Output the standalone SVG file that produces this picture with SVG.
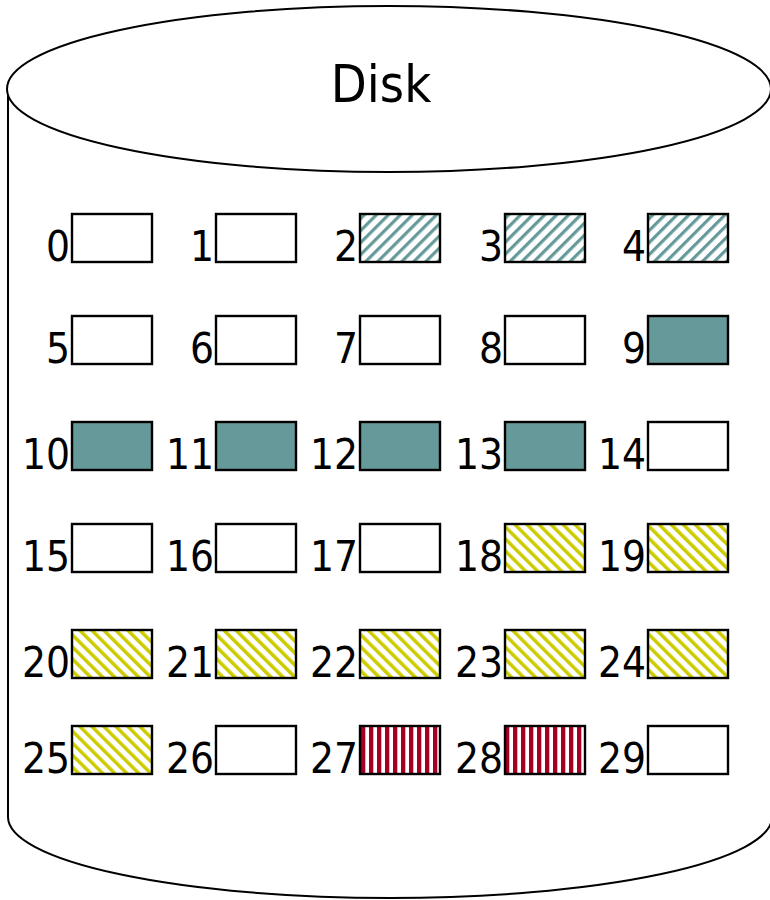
<svg xmlns="http://www.w3.org/2000/svg" width="770" height="900" viewBox="0 0 770 900">
<defs>
<pattern id="tealHatch" patternUnits="userSpaceOnUse" width="8.5" height="8.5" patternTransform="rotate(45)">
<rect x="0" y="0" width="8.5" height="8.5" fill="#fff"/>
<rect x="0" y="0" width="3.2" height="8.5" fill="#669999"/>
</pattern>
<pattern id="yellowHatch" patternUnits="userSpaceOnUse" width="8.5" height="8.5" patternTransform="rotate(-45)">
<rect x="0" y="0" width="8.5" height="8.5" fill="#fff"/>
<rect x="0" y="0" width="3.5" height="8.5" fill="#cccc00"/>
</pattern>
<pattern id="redStripe" patternUnits="userSpaceOnUse" width="8" height="10" x="1">
<rect x="0" y="0" width="8" height="10" fill="#fff"/>
<rect x="0" y="0" width="4.3" height="10" fill="#a50021"/>
</pattern>
</defs>
<style>
.cyl{fill:#fff;stroke:#000;stroke-width:2}
.blk{stroke:#000;stroke-width:2.4}
.empty{fill:#fff}
.solid{fill:#669999}
.teal{fill:url(#tealHatch)}
.yel{fill:url(#yellowHatch)}
.red{fill:url(#redStripe)}
.lbl{font-family:"DejaVu Sans Condensed","DejaVu Sans",sans-serif;font-stretch:condensed;font-size:42px;fill:#000;text-anchor:end}
.title{font-family:"DejaVu Sans Condensed","DejaVu Sans",sans-serif;font-stretch:condensed;font-size:52px;fill:#000;text-anchor:middle}
</style>
<g id="disk">
<path class="cyl" d="M 8 89 L 8 817 A 382 81 0 0 0 772 817 L 772 89 Z"/>
<ellipse class="cyl" cx="389" cy="89" rx="382" ry="83"/>
<text class="title" x="381" y="102">Disk</text>
</g>
<g id="b0"><rect class="blk empty" x="72" y="214" width="80" height="48"/><text class="lbl" x="70" y="261">0</text></g>
<g id="b1"><rect class="blk empty" x="216" y="214" width="80" height="48"/><text class="lbl" x="214" y="261">1</text></g>
<g id="b2"><rect class="blk teal" x="360" y="214" width="80" height="48"/><text class="lbl" x="358" y="261">2</text></g>
<g id="b3"><rect class="blk teal" x="505" y="214" width="80" height="48"/><text class="lbl" x="503" y="261">3</text></g>
<g id="b4"><rect class="blk teal" x="648" y="214" width="80" height="48"/><text class="lbl" x="646" y="261">4</text></g>

<g id="b5"><rect class="blk empty" x="72" y="316" width="80" height="48"/><text class="lbl" x="70" y="363">5</text></g>
<g id="b6"><rect class="blk empty" x="216" y="316" width="80" height="48"/><text class="lbl" x="214" y="363">6</text></g>
<g id="b7"><rect class="blk empty" x="360" y="316" width="80" height="48"/><text class="lbl" x="358" y="363">7</text></g>
<g id="b8"><rect class="blk empty" x="505" y="316" width="80" height="48"/><text class="lbl" x="503" y="363">8</text></g>
<g id="b9"><rect class="blk solid" x="648" y="316" width="80" height="48"/><text class="lbl" x="646" y="363">9</text></g>

<g id="b10"><rect class="blk solid" x="72" y="422" width="80" height="48"/><text class="lbl" x="70" y="469">10</text></g>
<g id="b11"><rect class="blk solid" x="216" y="422" width="80" height="48"/><text class="lbl" x="214" y="469">11</text></g>
<g id="b12"><rect class="blk solid" x="360" y="422" width="80" height="48"/><text class="lbl" x="358" y="469">12</text></g>
<g id="b13"><rect class="blk solid" x="505" y="422" width="80" height="48"/><text class="lbl" x="503" y="469">13</text></g>
<g id="b14"><rect class="blk empty" x="648" y="422" width="80" height="48"/><text class="lbl" x="646" y="469">14</text></g>

<g id="b15"><rect class="blk empty" x="72" y="524" width="80" height="48"/><text class="lbl" x="70" y="571">15</text></g>
<g id="b16"><rect class="blk empty" x="216" y="524" width="80" height="48"/><text class="lbl" x="214" y="571">16</text></g>
<g id="b17"><rect class="blk empty" x="360" y="524" width="80" height="48"/><text class="lbl" x="358" y="571">17</text></g>
<g id="b18"><rect class="blk yel" x="505" y="524" width="80" height="48"/><text class="lbl" x="503" y="571">18</text></g>
<g id="b19"><rect class="blk yel" x="648" y="524" width="80" height="48"/><text class="lbl" x="646" y="571">19</text></g>

<g id="b20"><rect class="blk yel" x="72" y="630" width="80" height="48"/><text class="lbl" x="70" y="677">20</text></g>
<g id="b21"><rect class="blk yel" x="216" y="630" width="80" height="48"/><text class="lbl" x="214" y="677">21</text></g>
<g id="b22"><rect class="blk yel" x="360" y="630" width="80" height="48"/><text class="lbl" x="358" y="677">22</text></g>
<g id="b23"><rect class="blk yel" x="505" y="630" width="80" height="48"/><text class="lbl" x="503" y="677">23</text></g>
<g id="b24"><rect class="blk yel" x="648" y="630" width="80" height="48"/><text class="lbl" x="646" y="677">24</text></g>

<g id="b25"><rect class="blk yel" x="72" y="726" width="80" height="48"/><text class="lbl" x="70" y="773">25</text></g>
<g id="b26"><rect class="blk empty" x="216" y="726" width="80" height="48"/><text class="lbl" x="214" y="773">26</text></g>
<g id="b27"><rect class="blk red" x="360" y="726" width="80" height="48"/><text class="lbl" x="358" y="773">27</text></g>
<g id="b28"><rect class="blk red" x="505" y="726" width="80" height="48"/><text class="lbl" x="503" y="773">28</text></g>
<g id="b29"><rect class="blk empty" x="648" y="726" width="80" height="48"/><text class="lbl" x="646" y="773">29</text></g>
<g id="connectors"/>
</svg>
